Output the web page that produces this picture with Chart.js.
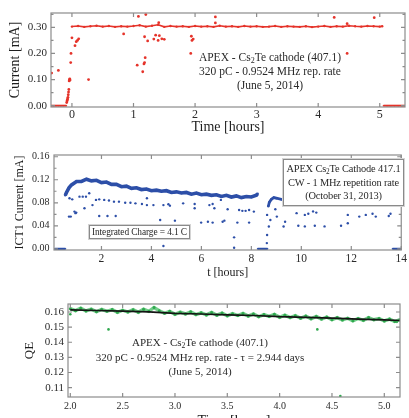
<!DOCTYPE html>
<html>
<head>
<meta charset="utf-8">
<script src="https://cdn.jsdelivr.net/npm/chart.js@4.4.1/dist/chart.umd.min.js"></script>
<style>
html, body { margin:0; padding:0; background:#fff; width:409px; height:418px; overflow:hidden; }
.pane { position:absolute; left:0; }
.note { position:absolute; z-index:2; font-family:"Liberation Serif","Times New Roman",serif; color:#2a2a2a; text-align:center; white-space:nowrap; }
.note sub { font-size:70%; line-height:0; vertical-align:-0.25em; }
.box { background:#fff; border:1px solid #8a8a8a; box-shadow:0 0 0 1px #d4d4d4; box-sizing:border-box; }
</style>
</head>
<body>
<canvas id="c1" class="pane" width="409" height="140" style="top:0"></canvas>
<canvas id="c2" class="pane" width="409" height="150" style="top:140px"></canvas>
<canvas id="c3" class="pane" width="409" height="140" style="top:290px"></canvas>

<div class="note" style="left:190px;top:50px;width:160px;font-size:11.5px;line-height:14px">
APEX - Cs<sub>2</sub>Te cathode (407.1)<br>320 pC - 0.9524 MHz rep. rate<br>(June 5, 2014)</div>

<div class="note box" style="left:283px;top:159px;width:121px;height:47px;font-size:10.4px;line-height:13.5px;padding-top:2px;letter-spacing:-0.15px">
APEX Cs<sub>2</sub>Te Cathode 417.1<br>CW - 1 MHz repetition rate<br>(October 31, 2013)</div>

<div class="note box" style="left:89px;top:225px;width:101px;height:14px;font-size:9.4px;line-height:12px;letter-spacing:-0.1px">
Integrated Charge = 4.1 C</div>

<div class="note" style="left:95px;top:335px;width:210px;font-size:11px;line-height:14.5px">
APEX - Cs<sub>2</sub>Te cathode (407.1)<br>320 pC - 0.9524 MHz rep. rate - τ = 2.944 days<br>(June 5, 2014)</div>

<script>
// ---- data: top panel (June 5, 2014 run) [hours, mA]

const topBand = [[0.0,0.303],[0.1,0.305],[0.2,0.302],[0.3,0.304],[0.4,0.306],[0.5,0.303],[0.6,0.305],[0.7,0.302],[0.8,0.304],[0.9,0.303],
  [1.0,0.305],[1.1,0.308],[1.2,0.303],[1.3,0.306],[1.4,0.310],[1.5,0.302],[1.6,0.305],[1.7,0.303],[1.8,0.304],[1.9,0.302],
  [2.0,0.305],[2.1,0.303],[2.2,0.304],[2.3,0.302],[2.4,0.306],[2.5,0.303],[2.6,0.304],[2.7,0.302],[2.8,0.305],[2.9,0.303],
  [3.0,0.304],[3.1,0.302],[3.2,0.303],[3.3,0.305],[3.4,0.302],[3.5,0.304],[3.6,0.303],[3.7,0.302],[3.8,0.304],[3.9,0.301],
  [4.0,0.303],[4.1,0.305],[4.2,0.302],[4.3,0.304],[4.4,0.303],[4.5,0.306],[4.6,0.304],[4.7,0.303],[4.8,0.305],[4.9,0.304],
  [5.0,0.303],[5.04,0.304]];
const topZeroStart = [[-0.34,0],[-0.30,0],[-0.26,0],[-0.22,0],[-0.18,0],[-0.14,0],[-0.09,0]];
const topZeroEnd = [[5.06,0],[5.12,0],[5.18,0],[5.24,0],[5.30,0],[5.36,0],[5.41,0]];
const topRamp = [[-0.085,0.012],[-0.08,0.018],[-0.075,0.022],[-0.07,0.026],[-0.065,0.032],[-0.06,0.042],[-0.055,0.052],
  [-0.05,0.062],[-0.045,0.095],[-0.04,0.1],[-0.035,0.103],[-0.03,0.098],[-0.02,0.165],[-0.015,0.2],[0.0,0.26]];
const topStray = [[-0.33,0.125],[-0.22,0.135],[0.05,0.23],[0.07,0.245],[0.09,0.25],[0.11,0.256],[0.27,0.10],[0.84,0.275],
  [1.06,0.155],[1.08,0.342],[1.15,0.13],[1.17,0.16],[1.18,0.165],[1.19,0.184],[1.18,0.264],[1.2,0.349],[1.23,0.248],
  [1.33,0.255],[1.36,0.27],[1.4,0.25],[1.42,0.268],[1.46,0.256],[1.5,0.254],[1.41,0.318],[1.94,0.266],[1.95,0.25],
  [1.97,0.255],[1.93,0.20],[2.33,0.34],[2.33,0.317],[4.26,0.338],[4.47,0.20],[4.47,0.314],[4.91,0.337]];

// ---- data: middle panel (October 31, 2013 run) [hours, mA]
const midBandA = [[0.55,0.093],[0.6,0.098],[0.7,0.106],[0.8,0.111],[0.9,0.114],[1.0,0.117],[1.2,0.117],[1.4,0.121],[1.6,0.118],
  [1.8,0.119],[2.0,0.115],[2.2,0.116],[2.4,0.112],[2.6,0.112],[2.8,0.108],[3.0,0.109],[3.2,0.105],[3.4,0.106],[3.6,0.103],
  [3.8,0.104],[4.0,0.101],[4.2,0.102],[4.4,0.100],[4.6,0.101],[4.8,0.098],[5.0,0.099],[5.2,0.097],[5.4,0.098],[5.6,0.095],
  [5.8,0.097],[6.0,0.094],[6.2,0.095],[6.4,0.093],[6.6,0.094],[6.8,0.091],[7.0,0.093],[7.2,0.090],[7.4,0.092],[7.6,0.089],
  [7.8,0.091],[8.0,0.090],[8.2,0.093],[8.25,0.096]];
const midBandB = [[8.68,0.074],[8.72,0.081],[8.8,0.086],[8.9,0.089],[9.0,0.088],[9.2,0.086],[9.4,0.086],[9.6,0.084],[9.8,0.084],
  [10.0,0.082],[10.2,0.083],[10.4,0.081],[10.6,0.082],[10.8,0.080],[11.0,0.081],[11.2,0.080],[11.4,0.080],[11.6,0.079],
  [11.8,0.080],[12.0,0.079],[12.2,0.079],[12.4,0.078],[12.6,0.079],[12.8,0.078],[13.0,0.078],[13.2,0.077],[13.4,0.078],[13.6,0.078]];
const midZeroA = [[0.12,0],[0.2,0],[0.3,0],[0.4,0],[0.5,0],[0.56,0]];
const midZeroB = [[8.25,0],[8.35,0],[8.45,0],[8.55,0],[8.65,0]];
const midZeroC = [[13.65,0],[13.75,0],[13.85,0],[13.95,0],[14.0,0]];
const midStray = [[0.72,0.088],[0.83,0.086],[1.12,0.0907],[1.25,0.0907],[1.38,0.0907],[1.51,0.0965],[0.92,0.0647],[0.96,0.062],
  [0.99,0.063],[0.70,0.056],[0.77,0.056],[1.32,0.0705],[1.64,0.076],[1.78,0.085],[1.91,0.086],[2.11,0.085],[2.30,0.084],
  [2.50,0.082],[2.70,0.082],[2.95,0.080],[3.16,0.080],[3.36,0.079],[3.62,0.078],[3.82,0.076],[4.08,0.076],[3.82,0.088],
  [1.91,0.057],[2.24,0.057],[2.57,0.057],[4.48,0.076],[4.68,0.0775],[4.74,0.075],[5.27,0.079],[5.73,0.078],[5.73,0.0705],
  [4.35,0.050],[4.94,0.049],[4.48,0.005],[5.99,0.0456],[6.26,0.047],[6.45,0.0456],[6.85,0.047],[6.32,0.076],[6.45,0.078],
  [6.52,0.0705],[6.78,0.085],[7.05,0.0688],[7.51,0.0676],[7.64,0.066],[7.77,0.066],[7.91,0.0676],[8.10,0.0647],[6.92,0.049],
  [7.44,0.0456],[7.91,0.0456],[7.31,0.020],[7.31,0.002],[8.63,0.059],[8.70,0.0387],[8.63,0.024],[8.76,0.050],[8.62,0.010],
  [8.96,0.0688],[9.02,0.056],[9.35,0.047],[9.29,0.0387],[9.81,0.062],[10.28,0.061],[10.60,0.063],[10.47,0.065],[9.88,0.040],
  [10.14,0.039],[10.54,0.040],[10.93,0.039],[11.59,0.040],[10.14,0.059],[11.86,0.059],[12.32,0.056],[12.58,0.059],
  [12.85,0.061],[12.98,0.056],[13.50,0.057],[13.57,0.061],[11.86,0.0445]];

// ---- data: bottom panel, QE [hours, QE]
const qeData = [[2.00,0.1622],[2.05,0.1609],[2.10,0.1625],[2.15,0.1607],[2.20,0.1619],[2.25,0.1602],[2.30,0.1617],[2.35,0.1605],
  [2.40,0.1616],[2.45,0.1598],[2.50,0.1612],[2.55,0.1600],[2.60,0.1615],[2.65,0.1598],[2.70,0.1619],[2.75,0.1605],[2.80,0.1630],
  [2.85,0.1609],[2.90,0.1592],[2.95,0.1605],[3.00,0.1585],[3.05,0.1599],[3.10,0.1587],[3.15,0.1601],[3.20,0.1583],[3.25,0.1595],
  [3.30,0.1581],[3.35,0.1597],[3.40,0.1579],[3.45,0.1593],[3.50,0.1575],[3.55,0.1589],[3.60,0.1577],[3.65,0.1591],[3.70,0.1573],
  [3.75,0.1587],[3.80,0.1569],[3.85,0.1583],[3.90,0.1571],[3.95,0.1585],[4.00,0.1565],[4.05,0.1579],[4.10,0.1563],[4.15,0.1576],
  [4.20,0.1559],[4.25,0.1573],[4.30,0.1555],[4.35,0.1571],[4.40,0.1553],[4.45,0.1567],[4.50,0.1549],[4.55,0.1563],[4.60,0.1547],
  [4.65,0.1559],[4.70,0.1542],[4.75,0.1557],[4.80,0.1545],[4.85,0.1563],[4.90,0.1549],[4.95,0.1557],[5.00,0.1541],[5.05,0.1553],
  [5.10,0.1537],[5.15,0.1549]];
const qeStray = [[2.0,0.1585],[2.365,0.1485],[4.36,0.1485],[4.58,0.1045],[5.12,0.1535]];
const qeFit = [[2.0,0.1614],[2.25,0.1610],[2.5,0.1606],[2.75,0.1601],[3.0,0.1591],[3.25,0.1587],[3.5,0.1581],[3.75,0.1577],
  [4.0,0.1569],[4.25,0.1565],[4.5,0.1559],[4.75,0.1553],[5.0,0.1548],[5.15,0.1544]];

// ---- ticks
const topXTicks = [0, 1, 2, 3, 4, 5];
const topYTicks = [0, 0.05, 0.10, 0.15, 0.20, 0.25, 0.30, 0.35];
const topYLabels = [0, 0.10, 0.20, 0.30];
const midXTicks = [2, 4, 6, 8, 10, 12, 14];
const midYTicks = [0, 0.02, 0.04, 0.06, 0.08, 0.10, 0.12, 0.14, 0.16];
const midYLabels = [0, 0.04, 0.08, 0.12, 0.16];
const botXTicks = [2.0, 2.5, 3.0, 3.5, 4.0, 4.5, 5.0];
const botYTicks = [0.11, 0.12, 0.13, 0.14, 0.15, 0.16];

const SERIF = '"Liberation Serif", "Times New Roman", serif';
const RED = '#e5332a', BLUE = '#2d4fa8', GREEN = '#2fa84e';

// frame + inward ticks on all four sides
const frameTicks = {
  id: 'frameTicks',
  afterDatasetsDraw(chart) {
    const { ctx, chartArea: a, scales: { x, y } } = chart;
    ctx.save();
    ctx.strokeStyle = '#8c8c8c';
    ctx.lineWidth = 1.2;
    ctx.strokeRect(a.left, a.top, a.right - a.left, a.bottom - a.top);
    ctx.beginPath();
    x.ticks.forEach(t => {
      const px = x.getPixelForValue(t.value);
      const L = t.label ? 4 : 2.5;
      ctx.moveTo(px, a.bottom); ctx.lineTo(px, a.bottom - L);
      ctx.moveTo(px, a.top); ctx.lineTo(px, a.top + L);
    });
    y.ticks.forEach(t => {
      const py = y.getPixelForValue(t.value);
      const L = t.label ? 4 : 2.5;
      ctx.moveTo(a.left, py); ctx.lineTo(a.left + L, py);
      ctx.moveTo(a.right, py); ctx.lineTo(a.right - L, py);
    });
    ctx.stroke();
    ctx.restore();
  }
};

function pts(list) { return list.map(p => ({ x: p[0], y: p[1] })); }

function band(list, color, w, r, dotColor) {
  return { data: pts(list), showLine: true, borderColor: color, backgroundColor: dotColor || color,
    borderWidth: w, pointRadius: r, pointBorderWidth: 0, tension: 0 };
}
function dots(list, color, r) {
  return { data: pts(list), showLine: false, backgroundColor: color, borderColor: color,
    pointRadius: r, pointBorderWidth: 0 };
}

function axis(a, horiz) {
  return {
    type: 'linear', min: a.min, max: a.max,
    afterBuildTicks: s => { s.ticks = a.ticks.map(v => ({ value: v })); },
    afterFit: s => { if (horiz) s.height = a.size; else s.width = a.size; },
    grid: { display: false, drawTicks: false },
    border: { display: false },
    ticks: {
      autoSkip: false, maxRotation: 0, padding: a.pad, color: '#2a2a2a',
      font: { family: SERIF, size: a.font },
      callback: v => (a.labels || a.ticks).some(u => Math.abs(u - v) < 1e-9) ? v.toFixed(a.dec) : ''
    },
    title: {
      display: true, text: a.title, color: '#1e1e1e',
      font: { family: SERIF, size: a.titleFont },
      padding: horiz ? { top: 0, bottom: a.titlePad } : { top: a.titlePad, bottom: 0 }
    }
  };
}

function makeChart(id, o) {
  return new Chart(document.getElementById(id), {
    type: 'scatter',
    data: { datasets: o.datasets },
    options: {
      responsive: false,
      animation: false,
      layout: { padding: { top: o.padTop, right: o.padRight, left: 0, bottom: 0 } },
      plugins: { legend: { display: false }, tooltip: { enabled: false } },
      scales: { x: axis(o.x, true), y: axis(o.y, false) }
    },
    plugins: [frameTicks]
  });
}

makeChart('c1', {
  padTop: 13, padRight: 3,
  datasets: [
    band(topZeroStart, RED, 2, 0.8),
    band(topZeroEnd, RED, 2, 0.8),
    band(topBand, RED, 1.6, 1.2),
    dots(topRamp, RED, 1.4),
    dots(topStray, RED, 1.4)
  ],
  x: { min: -0.34, max: 5.41, ticks: topXTicks, dec: 0, size: 33, pad: 1, font: 12,
       title: 'Time [hours]', titleFont: 14, titlePad: 4 },
  y: { min: -0.005, max: 0.355, ticks: topYTicks, labels: topYLabels, dec: 2, size: 51, pad: 4, font: 11,
       title: 'Current [mA]', titleFont: 14, titlePad: 7 }
});

makeChart('c2', {
  padTop: 15, padRight: 3,
  datasets: [
    band(midZeroA, BLUE, 2.2, 0.8),
    band(midZeroB, BLUE, 2.2, 0.8),
    band(midZeroC, BLUE, 2.2, 0.8),
    band(midBandA, BLUE, 3.6, 1.2),
    band(midBandB, BLUE, 2.8, 1.2),
    dots(midStray, BLUE, 1.2)
  ],
  x: { min: 0.1, max: 14, ticks: midXTicks, dec: 0, size: 40, pad: 2, font: 11.5,
       title: 't [hours]', titleFont: 12, titlePad: 10 },
  y: { min: -0.002, max: 0.163, ticks: midYTicks, labels: midYLabels, dec: 2, size: 54, pad: 4.5, font: 10,
       title: 'ICT1 Current [mA]', titleFont: 12, titlePad: 13 }
});

makeChart('c3', {
  padTop: 14, padRight: 9,
  datasets: [
    band(qeFit, '#141414', 1.7, 0),
    band(qeData, 'rgba(70,190,100,0.75)', 3.4, 1.5, GREEN),
    dots(qeStray, GREEN, 1.3)
  ],
  x: { min: 1.978, max: 5.15, ticks: botXTicks, dec: 1, size: 33, pad: 3, font: 10,
       title: 'Time [hours]', titleFont: 14, titlePad: 0 },
  y: { min: 0.1038, max: 0.1653, ticks: botYTicks, dec: 2, size: 68, pad: 4, font: 11,
       title: 'QE', titleFont: 13, titlePad: 22 }
});
</script>
</body>
</html>
